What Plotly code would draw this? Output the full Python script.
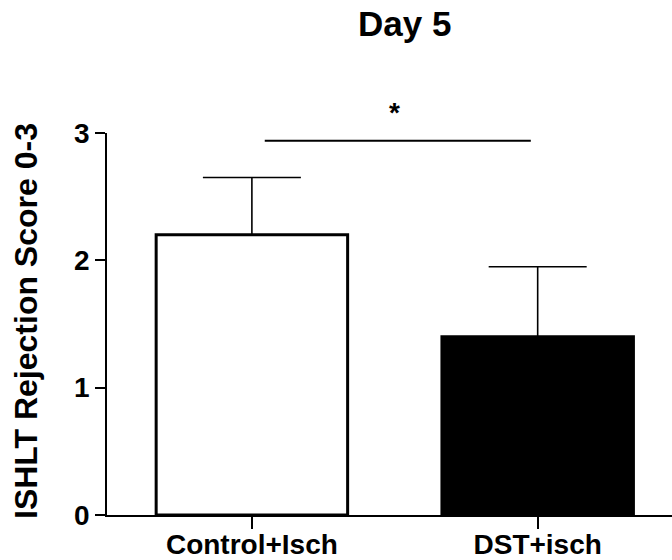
import plotly.graph_objects as go

categories = ["Control+Isch", "DST+isch"]
means = [2.2, 1.4]
errors_up = [0.45, 0.55]
bar_colors = ["white", "black"]
y_ticks = [0, 1, 2, 3]
title_text = "Day 5"
y_title = "ISHLT Rejection Score 0-3"
sig_label = "*"
sig_y = 2.94

FONT = "Liberation Sans, Arial, sans-serif"

fig = go.Figure()
fig.add_trace(go.Bar(
    x=[0, 1],
    y=means,
    marker=dict(color=bar_colors, line=dict(color="black", width=3)),
    error_y=dict(type="data", array=errors_up, arrayminus=[0, 0], symmetric=False,
                 width=49, thickness=1.6, color="black"),
    width=0.67,
    showlegend=False,
))

fig.add_shape(type="line", xref="x", yref="y", x0=0.045, x1=0.976, y0=sig_y, y1=sig_y,
              line=dict(color="black", width=2))
fig.add_annotation(xref="x", yref="y", x=0.5, y=sig_y, yanchor="bottom", yshift=11,
                   text=sig_label, showarrow=False,
                   font=dict(family=FONT, size=28, color="black", weight="bold"))

fig.add_annotation(xref="paper", yref="paper", x=(404 - 107) / 565, y=(515 - 24) / 382,
                   xanchor="center", yanchor="middle", text=title_text, showarrow=False,
                   font=dict(family=FONT, size=35, color="black", weight="bold"))
fig.add_annotation(xref="paper", yref="paper", x=(26 - 107) / 565, y=(515 - 321) / 382,
                   xanchor="center", yanchor="middle", text=y_title, textangle=-90,
                   showarrow=False,
                   font=dict(family=FONT, size=32, color="black", weight="bold"))

fig.update_layout(
    width=672, height=560,
    margin=dict(l=107, r=0, t=133, b=45),
    plot_bgcolor="white", paper_bgcolor="white",
    xaxis=dict(range=[-0.507, 1.47], tickvals=[0, 1], ticktext=categories,
               automargin=False, ticklabelstandoff=-8,
               showline=True, linecolor="black", linewidth=1.6,
               ticks="outside", ticklen=12, tickwidth=1.6, tickcolor="black",
               showgrid=False, zeroline=False,
               tickfont=dict(family=FONT, size=28, color="black", weight="bold")),
    yaxis=dict(range=[0, 3], tickvals=y_ticks, automargin=False,
               showline=True, linecolor="black", linewidth=1.6,
               ticks="outside", ticklen=10, tickwidth=1.6, tickcolor="black",
               showgrid=False, zeroline=False,
               tickfont=dict(family=FONT, size=28, color="black", weight="bold")),
)

fig.write_html("out.html", config={"displayModeBar": False},
               post_script="document.body.style.margin='0px';")
